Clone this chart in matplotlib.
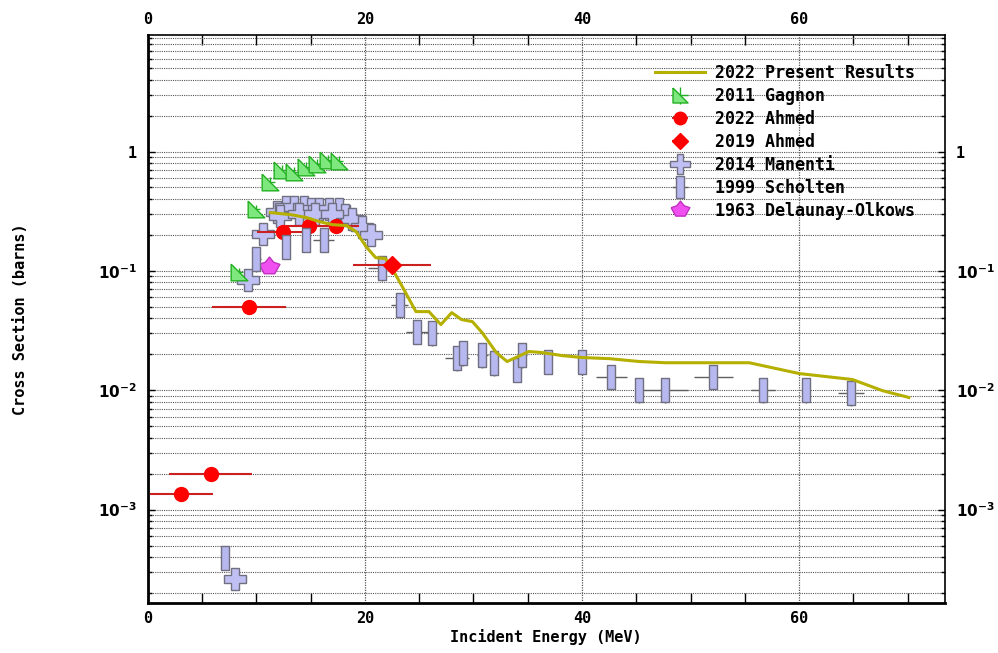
import numpy as np
import matplotlib
matplotlib.use("Agg")
import matplotlib.pyplot as plt
from matplotlib.ticker import FixedLocator, LogLocator, FuncFormatter, NullFormatter

plt.rcParams['font.family'] = ['DejaVu Sans Mono']
plt.rcParams['font.weight'] = 'bold'

# present results (model curve)
calc_e = [11.3, 13.2, 14.6, 15.8, 17.0, 18.3, 19.2, 20.1, 21.0, 21.9, 22.5, 23.6, 24.7,
          25.9, 27.0, 28.0, 28.9, 29.9, 30.8, 32.1, 33.1, 34.5, 35.1, 36.3, 38.2, 40.0,
          42.5, 45.3, 47.7, 55.4, 60.0, 64.9, 67.7, 70.1]
calc_xs = [0.308, 0.296, 0.28, 0.259, 0.244, 0.24, 0.213, 0.16, 0.129, 0.127, 0.105, 0.0697, 0.0456,
           0.0456, 0.0355, 0.0447, 0.0391, 0.0376, 0.0304, 0.0207, 0.0174, 0.0199, 0.0211, 0.0207, 0.0195, 0.0188,
           0.0184, 0.0174, 0.017, 0.017, 0.0138, 0.0123, 0.0099, 0.0087]

# 2011 Gagnon
gag_e = [8.4, 9.95, 11.3, 12.4, 13.5, 14.6, 15.6, 16.6, 17.6]
gag_xs = [0.097, 0.327, 0.561, 0.707, 0.68, 0.749, 0.79, 0.857, 0.84]

# 2022 Ahmed
ahm22_e = [3.1, 5.8, 9.3, 12.5, 14.9, 17.3]
ahm22_de = [2.9, 3.8, 3.4, 2.4, 2.2, 2.2]
ahm22_xs = [0.00136, 0.0020, 0.0502, 0.213, 0.24, 0.24]

# 2019 Ahmed
ahm19_e = [22.5]
ahm19_de = [3.6]
ahm19_xs = [0.111]

# 2014 Manenti
man_e = [8.0, 9.2, 10.6, 11.9, 12.7, 13.5, 14.4, 15.0, 15.8, 16.7, 17.6, 18.2, 18.8, 19.7, 20.6,
         12.2, 13.9, 15.4, 17.0]
man_xs = [2.64e-4, 0.0845, 0.205, 0.314, 0.34, 0.346, 0.34, 0.327, 0.327, 0.327, 0.327, 0.296, 0.27, 0.235, 0.2,
          0.29, 0.3, 0.3, 0.3]

# 1999 Scholten
sch_e = [7.1, 10.0, 12.7, 14.6, 16.2, 21.6, 23.2, 24.8, 26.2, 28.5, 29.0, 30.8, 31.9, 34.0, 34.5,
         36.9, 40.0, 42.7, 45.2, 47.6, 52.1, 56.7, 60.6, 64.8]
sch_de = [0.3, 0.4, 0.3, 0.3, 1.0, 1.3, 0.8, 1.0, 0.5, 1.1, 0.4, 0.5, 0.3, 0.3, 0.4,
          0.3, 0.4, 1.4, 0.3, 2.2, 1.8, 1.1, 0.4, 1.2]
sch_xs = [3.96e-4, 0.125, 0.16, 0.183, 0.183, 0.105, 0.052, 0.031, 0.030, 0.0187, 0.0205, 0.0198, 0.0169, 0.0149, 0.0198,
          0.0174, 0.0174, 0.013, 0.0101, 0.0101, 0.013, 0.0101, 0.0101, 0.0095]

# 1963 Delaunay-Olkows
del_e = [11.15]
del_xs = [0.107]

tri_marker = [(-0.5, 0.5), (-0.5, -0.5), (0.5, -0.5), (-0.5, 0.5)]
rect_marker = [(-0.17, -0.5), (0.17, -0.5), (0.17, 0.5), (-0.17, 0.5), (-0.17, -0.5)]
crown_marker = [(-0.5, 0.15), (-0.2, 0.25), (0.0, 0.5), (0.2, 0.25), (0.5, 0.15), (0.25, -0.3),
                (-0.25, -0.3), (-0.5, 0.15)]

fig = plt.figure(figsize=(9.98, 6.53), dpi=100)
ax = fig.add_axes([0.148, 0.0766, 0.7986, 0.87])

h_calc, = ax.plot(calc_e, calc_xs, color='#b5b000', lw=2.2, label='2022 Present Results', zorder=5)

h_gag = ax.errorbar(gag_e, gag_xs, yerr=np.array(gag_xs) * 0.1, xerr=0.4, fmt='o', marker=tri_marker,
                    ms=12, mfc='#7ee87e', mec='#22b022', mew=1, ecolor='#22b022', elinewidth=1,
                    capsize=0, label='2011 Gagnon', zorder=4)

h_a22 = ax.errorbar(ahm22_e, ahm22_xs, xerr=ahm22_de, fmt='o', color='red', ms=10, ecolor='#cc2020',
                    elinewidth=1.5, capsize=0, label='2022 Ahmed', zorder=4)
h_a19 = ax.errorbar(ahm19_e, ahm19_xs, xerr=ahm19_de, fmt='D', color='red', ms=9, ecolor='#cc2020',
                    elinewidth=1.5, capsize=0, label='2019 Ahmed', zorder=6)

h_man = ax.errorbar(man_e, man_xs, xerr=0.3, fmt='o', marker='P', ms=16, mfc='#c0c0f4', mec='#707080',
                    mew=1, ecolor='#707080', elinewidth=1, capsize=0, label='2014 Manenti', zorder=3)

h_sch = ax.errorbar(sch_e, sch_xs, xerr=sch_de, yerr=np.array(sch_xs) * 0.22, fmt='o', marker=rect_marker,
                    ms=17, mfc='#b8b8f0', mec='#707080', mew=1, ecolor='#606060',
                    elinewidth=1, capsize=0, label='1999 Scholten', zorder=4)

h_del, = ax.plot(del_e, del_xs, ls='none', marker=crown_marker, ms=15, mfc='#f050f0', mec='#c030c0', mew=1,
                 label='1963 Delaunay-Olkows', zorder=4)

ax.set_yscale('log')
ax.set_xlim(0, 73.4)
ax.set_ylim(1.65e-4, 9.5)

ax.xaxis.set_major_locator(FixedLocator([0, 20, 40, 60]))
ax.xaxis.set_minor_locator(FixedLocator(np.arange(0, 75, 5)))
ax.yaxis.set_major_locator(LogLocator(base=10))
ax.yaxis.set_minor_locator(LogLocator(base=10, subs=np.arange(2, 10)))
ax.yaxis.set_minor_formatter(NullFormatter())


def yfmt(v, pos):
    e = int(round(np.log10(v)))
    if e == 0:
        return '1'
    return r'$\mathbf{10^{%d}}$' % e


ax.yaxis.set_major_formatter(FuncFormatter(yfmt))

ax.tick_params(axis='both', which='both', direction='in', top=True, right=True,
               labeltop=True, labelright=True, labelsize=11, width=1)
ax.tick_params(axis='x', which='major', length=0, pad=6)
ax.tick_params(axis='x', which='minor', length=7)
ax.tick_params(axis='y', which='major', length=5, pad=8)
ax.tick_params(axis='y', which='minor', length=3)

ax.grid(True, which='major', axis='x', color='#555555', ls=(0, (1, 1)), lw=0.9)
ax.grid(True, which='both', axis='y', color='#555555', ls=(0, (1, 1)), lw=0.8)
ax.set_axisbelow(True)

for s in ['left', 'bottom']:
    ax.spines[s].set_linewidth(2)
for s in ['top', 'right']:
    ax.spines[s].set_linewidth(1.2)

ax.set_xlabel('Incident Energy (MeV)', fontsize=11, fontweight='bold', labelpad=2)
ax.set_ylabel('Cross Section (barns)', fontsize=11, fontweight='bold', labelpad=50)

handles = [h_calc, h_gag, h_a22, h_a19, h_man, h_sch, h_del]
leg = ax.legend(handles=handles, loc='upper left', bbox_to_anchor=(0.628, 0.96), frameon=False,
                fontsize=12, handlelength=3.0, handletextpad=0.6, labelspacing=0.3,
                markerscale=0.9, borderaxespad=0)

fig.savefig('out.png', dpi=100)
